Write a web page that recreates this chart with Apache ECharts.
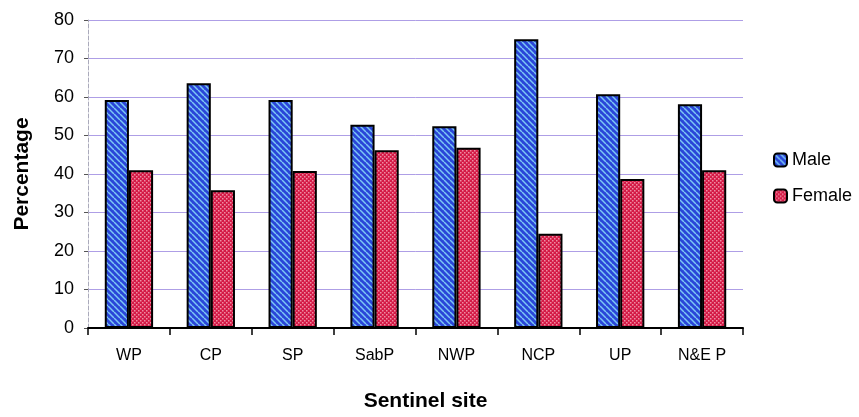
<!DOCTYPE html>
<html><head><meta charset="utf-8">
<script src="https://cdn.jsdelivr.net/npm/echarts@6/dist/echarts.min.js"></script>
<style>html,body{margin:0;padding:0;background:#fff}#c{width:859px;height:417px}</style>
</head><body><div id="c"></div>
<script>
const categories = ['WP','CP','SP','SabP','NWP','NCP','UP','N&E P'];
const maleValues = [59.2, 63.6, 59.2, 52.8, 52.4, 75.0, 60.7, 58.1];
const femaleValues = [41.0, 35.8, 40.8, 46.2, 46.8, 24.5, 38.7, 41.0];
const yTicks = [0,10,20,30,40,50,60,70,80];

function stripePattern(){
  const c=document.createElement('canvas');c.width=6;c.height=6;
  const g=c.getContext('2d');
  g.fillStyle='#2a46d8';g.fillRect(0,0,6,6);
  g.strokeStyle='#7cc8f4';g.lineWidth=1.5;
  for(let k=-6;k<=12;k+=6){g.beginPath();g.moveTo(k,0);g.lineTo(k+6,6);g.stroke();}
  return c;
}
function dotPattern(){
  const c=document.createElement('canvas');c.width=4;c.height=4;
  const g=c.getContext('2d');
  g.fillStyle='#d41a46';g.fillRect(0,0,4,4);
  g.fillStyle='#ee8ea4';g.fillRect(0,0,1.5,1.5);g.fillRect(2,2,1.5,1.5);
  return c;
}
const chart=echarts.init(document.getElementById('c'),null,{renderer:'canvas'});
chart.setOption({
  animation:false,
  textStyle:{fontFamily:'Liberation Sans, Arial, sans-serif'},
  grid:{left:88,right:116,top:20,bottom:89,containLabel:false,outerBoundsMode:'none'},
  legend:{orient:'vertical',left:768,top:146,itemWidth:13,itemHeight:13,itemGap:18,
    textStyle:{fontSize:18,color:'#000',fontFamily:'Liberation Sans, Arial, sans-serif'},
    data:['Male','Female']},
  xAxis:{type:'category',data:categories,
    name:'Sentinel site',nameLocation:'middle',nameGap:63,
    nameTextStyle:{fontSize:21,fontWeight:'bold',color:'#000',padding:[0,0,0,20]},
    axisLine:{lineStyle:{color:'#000',width:2}},
    axisTick:{show:true,length:7,lineStyle:{color:'#000',width:1.5}},
    axisLabel:{fontSize:16,color:'#000',margin:20}},
  yAxis:{type:'value',min:0,max:80,interval:10,
    name:'Percentage',nameLocation:'middle',nameGap:55,
    nameTextStyle:{fontSize:21,fontWeight:'bold',color:'#000'},
    axisLine:{show:true,lineStyle:{color:'#aab',width:1,type:'dashed'}},
    axisTick:{show:true,length:4,lineStyle:{color:'#555'}},
    axisLabel:{fontSize:18,color:'#000',margin:14,formatter:v=>yTicks.includes(v)?String(v):''},
    splitLine:{show:true,lineStyle:{color:'#9a86e0',width:1,opacity:0.8}}},
  series:[
    {name:'Male',type:'bar',data:maleValues,barGap:'0%',barCategoryGap:'41%',
      itemStyle:{color:{image:stripePattern(),repeat:'repeat'},borderColor:'#000',borderWidth:2}},
    {name:'Female',type:'bar',data:femaleValues,
      itemStyle:{color:{image:dotPattern(),repeat:'repeat'},borderColor:'#000',borderWidth:2}}
  ]
});
</script></body></html>
